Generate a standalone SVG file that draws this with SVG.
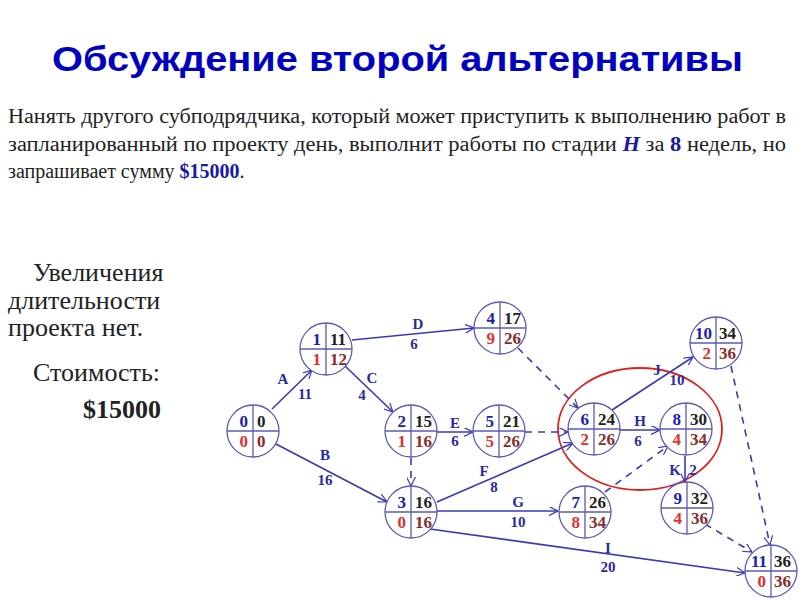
<svg xmlns="http://www.w3.org/2000/svg" width="800" height="600" viewBox="0 0 800 600">
<style>
.title{font-family:"Liberation Sans",Arial,sans-serif;font-weight:bold;font-size:35px;fill:#0000c0}
.para{font-family:"Liberation Serif","Times New Roman",serif;font-size:20px;fill:#222}
.hl{fill:#1a1aa0;font-weight:bold}
.side{font-family:"Liberation Serif","Times New Roman",serif;font-size:26px;fill:#222}
.node circle{fill:#fff;stroke:#5a5ab4;stroke-width:1.3}
.node line{stroke:#5a5ab4;stroke-width:1.3}
.node text{font-family:"Liberation Serif","Times New Roman",serif;font-weight:bold;font-size:17px}
.es{fill:#2020b0;text-anchor:end}
.ef{fill:#222;text-anchor:start}
.sl{fill:#e03030;text-anchor:end}
.lf{fill:#8b2a2a;text-anchor:start}
.a{stroke:#3838b8;stroke-width:1.6;fill:none;marker-end:url(#ah)}
.d{stroke:#3838b8;stroke-width:1.6;fill:none;stroke-dasharray:7,6;marker-end:url(#ah)}
.lbl{font-family:"Liberation Serif","Times New Roman",serif;font-weight:bold;font-size:15px;fill:#2a2aa0;text-anchor:middle}
</style>
<defs>
<marker id="ah" viewBox="0 0 10 10" refX="10" refY="5" markerWidth="9" markerHeight="9" markerUnits="userSpaceOnUse" orient="auto">
<path d="M0,0 L10,5 L0,10" fill="none" stroke="#3838b8" stroke-width="1.3"/>
</marker>
</defs>
<rect width="800" height="600" fill="#fff"/>
<text class="title" x="52" y="71" textLength="691" lengthAdjust="spacingAndGlyphs">Обсуждение второй альтернативы</text>
<text class="para" x="8" y="123" textLength="778" lengthAdjust="spacingAndGlyphs">Нанять другого субподрядчика, который может приступить к выполнению работ в</text>
<text class="para" x="8" y="151" textLength="778" lengthAdjust="spacingAndGlyphs">запланированный по проекту день, выполнит работы по стадии <tspan class="hl" font-style="italic">H</tspan> за <tspan class="hl">8</tspan> недель, но</text>
<text class="para" x="8" y="178">запрашивает сумму <tspan class="hl">$15000</tspan>.</text>
<text class="side" x="33" y="281">Увеличения</text>
<text class="side" x="8" y="309">длительности</text>
<text class="side" x="8" y="336">проекта нет.</text>
<text class="side" x="33" y="381">Стоимость:</text>
<text class="side" x="83" y="418" font-weight="bold" fill="#1a1aa0">$15000</text>
<ellipse cx="640" cy="429" rx="82" ry="61" fill="none" stroke="#e02020" stroke-width="1.8"/>
<g id="connectors">
<line class="a" x1="272" y1="409" x2="312" y2="370"/>
<line class="a" x1="345" y1="366" x2="393" y2="412"/>
<line class="a" x1="352" y1="340" x2="474" y2="328"/>
<line class="a" x1="276" y1="444" x2="387" y2="502"/>
<line class="a" x1="437" y1="432" x2="473" y2="432"/>
<line class="d" x1="525" y1="432" x2="568" y2="432"/>
<line class="d" x1="518" y1="348" x2="578" y2="408"/>
<line class="d" x1="411" y1="458" x2="411" y2="486"/>
<line class="a" x1="437" y1="502" x2="573" y2="443"/>
<line class="a" x1="437" y1="511" x2="558" y2="511"/>
<line class="a" x1="430" y1="529" x2="745" y2="573"/>
<line class="a" x1="612" y1="410" x2="693" y2="357"/>
<line class="a" x1="620" y1="430" x2="660" y2="430"/>
<line class="d" x1="605" y1="492" x2="668" y2="446"/>
<line class="a" x1="685" y1="456" x2="685" y2="482"/>
<line class="d" x1="731" y1="366" x2="770" y2="545"/>
<line class="d" x1="705" y1="524" x2="752" y2="552"/>
<text class="lbl" x="283" y="384">A</text><text class="lbl" x="305" y="399">11</text>
<text class="lbl" x="372" y="383">C</text><text class="lbl" x="362" y="400">4</text>
<text class="lbl" x="418" y="329">D</text><text class="lbl" x="414" y="349">6</text>
<text class="lbl" x="325" y="460">B</text><text class="lbl" x="325" y="485">16</text>
<text class="lbl" x="455" y="428">E</text><text class="lbl" x="455" y="446">6</text>
<text class="lbl" x="484" y="476">F</text><text class="lbl" x="494" y="492">8</text>
<text class="lbl" x="518" y="507">G</text><text class="lbl" x="518" y="527">10</text>
<text class="lbl" x="608" y="553">I</text><text class="lbl" x="608" y="572">20</text>
<text class="lbl" x="657" y="375">J</text><text class="lbl" x="677" y="385">10</text>
<text class="lbl" x="640" y="426">H</text><text class="lbl" x="638" y="446">6</text>
<text class="lbl" x="675" y="475">K</text><text class="lbl" x="693" y="475">2</text>
</g>
<g id="n0" class="node"><circle cx="253" cy="431" r="26"/><line x1="227" y1="431" x2="279" y2="431"/><line x1="253" y1="405" x2="253" y2="457"/><text class="es" x="248" y="427">0</text><text class="ef" x="257" y="427">0</text><text class="sl" x="248" y="447">0</text><text class="lf" x="257" y="447">0</text></g>
<g id="n1" class="node"><circle cx="326" cy="349" r="26"/><line x1="300" y1="349" x2="352" y2="349"/><line x1="326" y1="323" x2="326" y2="375"/><text class="es" x="321" y="345">1</text><text class="ef" x="330" y="345">11</text><text class="sl" x="321" y="365">1</text><text class="lf" x="330" y="365">12</text></g>
<g id="n2" class="node"><circle cx="411" cy="431" r="26"/><line x1="385" y1="431" x2="437" y2="431"/><line x1="411" y1="405" x2="411" y2="457"/><text class="es" x="406" y="427">2</text><text class="ef" x="415" y="427">15</text><text class="sl" x="406" y="447">1</text><text class="lf" x="415" y="447">16</text></g>
<g id="n3" class="node"><circle cx="411" cy="512" r="26"/><line x1="385" y1="512" x2="437" y2="512"/><line x1="411" y1="486" x2="411" y2="538"/><text class="es" x="406" y="508">3</text><text class="ef" x="415" y="508">16</text><text class="sl" x="406" y="528">0</text><text class="lf" x="415" y="528">16</text></g>
<g id="n4" class="node"><circle cx="500" cy="328" r="26"/><line x1="474" y1="328" x2="526" y2="328"/><line x1="500" y1="302" x2="500" y2="354"/><text class="es" x="495" y="324">4</text><text class="ef" x="504" y="324">17</text><text class="sl" x="495" y="344">9</text><text class="lf" x="504" y="344">26</text></g>
<g id="n5" class="node"><circle cx="499" cy="431" r="26"/><line x1="473" y1="431" x2="525" y2="431"/><line x1="499" y1="405" x2="499" y2="457"/><text class="es" x="494" y="427">5</text><text class="ef" x="503" y="427">21</text><text class="sl" x="494" y="447">5</text><text class="lf" x="503" y="447">26</text></g>
<g id="n6" class="node"><circle cx="594" cy="429" r="26"/><line x1="568" y1="429" x2="620" y2="429"/><line x1="594" y1="403" x2="594" y2="455"/><text class="es" x="589" y="425">6</text><text class="ef" x="598" y="425">24</text><text class="sl" x="589" y="445">2</text><text class="lf" x="598" y="445">26</text></g>
<g id="n7" class="node"><circle cx="585" cy="512" r="26"/><line x1="559" y1="512" x2="611" y2="512"/><line x1="585" y1="486" x2="585" y2="538"/><text class="es" x="580" y="508">7</text><text class="ef" x="589" y="508">26</text><text class="sl" x="580" y="528">8</text><text class="lf" x="589" y="528">34</text></g>
<g id="n8" class="node"><circle cx="686" cy="429" r="26"/><line x1="660" y1="429" x2="712" y2="429"/><line x1="686" y1="403" x2="686" y2="455"/><text class="es" x="681" y="425">8</text><text class="ef" x="690" y="425">30</text><text class="sl" x="681" y="445">4</text><text class="lf" x="690" y="445">34</text></g>
<g id="n9" class="node"><circle cx="687" cy="508" r="26"/><line x1="661" y1="508" x2="713" y2="508"/><line x1="687" y1="482" x2="687" y2="534"/><text class="es" x="682" y="504">9</text><text class="ef" x="691" y="504">32</text><text class="sl" x="682" y="524">4</text><text class="lf" x="691" y="524">36</text></g>
<g id="n10" class="node"><circle cx="716" cy="343" r="26"/><line x1="690" y1="343" x2="742" y2="343"/><line x1="716" y1="317" x2="716" y2="369"/><text class="es" x="712" y="339">10</text><text class="ef" x="719" y="339">34</text><text class="sl" x="711" y="359">2</text><text class="lf" x="719" y="359">36</text></g>
<g id="n11" class="node"><circle cx="771" cy="571" r="26"/><line x1="745" y1="571" x2="797" y2="571"/><line x1="771" y1="545" x2="771" y2="597"/><text class="es" x="767" y="567">11</text><text class="ef" x="774" y="567">36</text><text class="sl" x="766" y="587">0</text><text class="lf" x="774" y="587">36</text></g>
</svg>
